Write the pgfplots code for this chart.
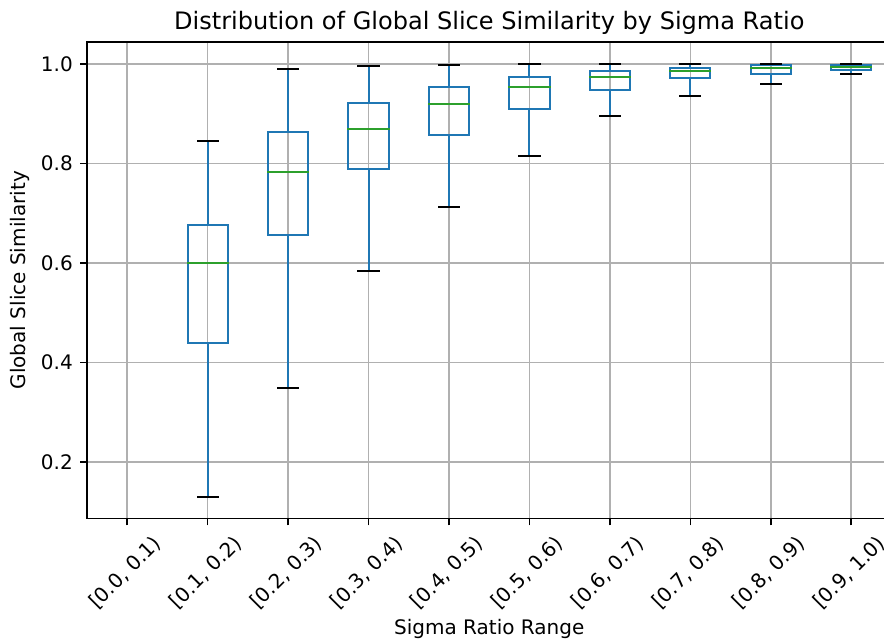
\documentclass[border=0pt]{standalone}
\usepackage{fontspec}
\setmainfont{DejaVu Sans}
\usepackage{pgfplots}
\pgfplotsset{compat=1.18}
\definecolor{cA}{HTML}{1F77B4}
\definecolor{cC}{HTML}{2CA02C}
\definecolor{gridc}{HTML}{B0B0B0}
\begin{document}
\begin{tikzpicture}
\begin{axis}[
  at={(0,0)}, anchor=south west,
  scale only axis,
  width=579.2pt, height=343.1pt,
  xmin=0.5, xmax=10.5,
  ymin=0.0864, ymax=1.0442,
  xtick={1,...,10},
  xticklabels={{[0.0, 0.1)},{[0.1, 0.2)},{[0.2, 0.3)},{[0.3, 0.4)},{[0.4, 0.5)},{[0.5, 0.6)},{[0.6, 0.7)},{[0.7, 0.8)},{[0.8, 0.9)},{[0.9, 1.0)}},
  ytick={0.2,0.4,0.6,0.8,1.0},
  yticklabel style={xshift=-1.7pt, /pgf/number format/.cd, fixed, fixed zerofill, precision=1},
  /pgf/number format/assume math mode=true,
  tick label style={font=\fontsize{14.4}{17}\selectfont},
  xticklabel style={yshift=-34pt, xshift=-1.4pt, rotate=45, anchor=center},
  tick align=outside,
  xtick pos=left, ytick pos=left,
  major tick length=5pt,
  tick style={black, line width=1.15pt},
  axis line style={black, line width=1.15pt},
  grid=major,
  major grid style={gridc, line width=1.15pt},
  every axis title shift=0pt,
  title={Distribution of Global Slice Similarity by Sigma Ratio},
  title style={font=\fontsize{17.3}{20}\selectfont, at={(axis description cs:0.5,1)}, anchor=center, yshift=13.7pt},
  xlabel={Sigma Ratio Range},
  xlabel style={font=\fontsize{14.4}{17}\selectfont, at={(axis description cs:0.5,-0.2311)}, anchor=center},
  ylabel={Global Slice Similarity},
  every axis y label/.style={at={(axis description cs:-0.0832,0.5)}, rotate=90, anchor=center, font=\fontsize{14.4}{17}\selectfont},
  unbounded coords=jump,
  every axis plot/.append style={line width=1.44pt, line cap=rect, line join=miter, mark=none},
]
% boxes: lower quartile to upper quartile
\addplot[cA] coordinates {
(1.75,0.439)(2.25,0.439)(2.25,0.677)(1.75,0.677)(1.75,0.439) (2,nan)
(2.75,0.657)(3.25,0.657)(3.25,0.863)(2.75,0.863)(2.75,0.657) (3,nan)
(3.75,0.788)(4.25,0.788)(4.25,0.921)(3.75,0.921)(3.75,0.788) (4,nan)
(4.75,0.858)(5.25,0.858)(5.25,0.953)(4.75,0.953)(4.75,0.858) (5,nan)
(5.75,0.910)(6.25,0.910)(6.25,0.974)(5.75,0.974)(5.75,0.910) (6,nan)
(6.75,0.947)(7.25,0.947)(7.25,0.985)(6.75,0.985)(6.75,0.947) (7,nan)
(7.75,0.971)(8.25,0.971)(8.25,0.991)(7.75,0.991)(7.75,0.971) (8,nan)
(8.75,0.979)(9.25,0.979)(9.25,0.997)(8.75,0.997)(8.75,0.979) (9,nan)
(9.75,0.988)(10.25,0.988)(10.25,0.997)(9.75,0.997)(9.75,0.988)
};
% whiskers
\addplot[cA] coordinates {
(2,0.439)(2,0.130) (2,nan) (2,0.677)(2,0.846) (2,nan)
(3,0.657)(3,0.348) (3,nan) (3,0.863)(3,0.989) (3,nan)
(4,0.788)(4,0.584) (4,nan) (4,0.921)(4,0.995) (4,nan)
(5,0.858)(5,0.713) (5,nan) (5,0.953)(5,0.997) (5,nan)
(6,0.910)(6,0.814) (6,nan) (6,0.974)(6,1.000) (6,nan)
(7,0.947)(7,0.895) (7,nan) (7,0.985)(7,1.000) (7,nan)
(8,0.971)(8,0.936) (8,nan) (8,0.991)(8,1.000) (8,nan)
(9,0.979)(9,0.959) (9,nan) (9,0.997)(9,1.000) (9,nan)
(10,0.988)(10,0.979) (10,nan) (10,0.997)(10,1.000)
};
% caps
\addplot[black] coordinates {
(1.875,0.130)(2.125,0.130) (2,nan) (1.875,0.846)(2.125,0.846) (2,nan)
(2.875,0.348)(3.125,0.348) (3,nan) (2.875,0.989)(3.125,0.989) (3,nan)
(3.875,0.584)(4.125,0.584) (4,nan) (3.875,0.995)(4.125,0.995) (4,nan)
(4.875,0.713)(5.125,0.713) (5,nan) (4.875,0.997)(5.125,0.997) (5,nan)
(5.875,0.814)(6.125,0.814) (6,nan) (5.875,1.000)(6.125,1.000) (6,nan)
(6.875,0.895)(7.125,0.895) (7,nan) (6.875,1.000)(7.125,1.000) (7,nan)
(7.875,0.936)(8.125,0.936) (8,nan) (7.875,1.000)(8.125,1.000) (8,nan)
(8.875,0.959)(9.125,0.959) (9,nan) (8.875,1.000)(9.125,1.000) (9,nan)
(9.875,0.979)(10.125,0.979) (10,nan) (9.875,1.000)(10.125,1.000)
};
% medians
\addplot[cC] coordinates {
(1.75,0.600)(2.25,0.600) (2,nan)
(2.75,0.782)(3.25,0.782) (3,nan)
(3.75,0.869)(4.25,0.869) (4,nan)
(4.75,0.919)(5.25,0.919) (5,nan)
(5.75,0.954)(6.25,0.954) (6,nan)
(6.75,0.974)(7.25,0.974) (7,nan)
(7.75,0.985)(8.25,0.985) (8,nan)
(8.75,0.992)(9.25,0.992) (9,nan)
(9.75,0.994)(10.25,0.994)
};
\end{axis}
\pgfresetboundingbox
\path[use as bounding box] (-62.6pt,-88.2pt) rectangle (573.8pt,373.3pt);
\end{tikzpicture}
\end{document}
